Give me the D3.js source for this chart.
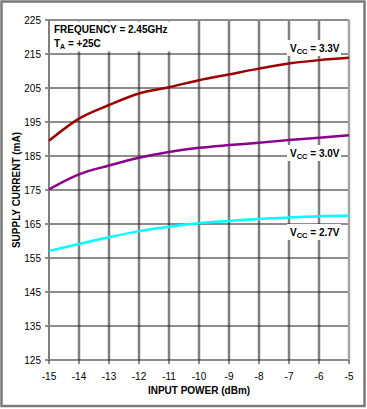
<!DOCTYPE html>
<html>
<head>
<meta charset="utf-8">
<script src="https://cdn.jsdelivr.net/npm/d3@7"></script>
<style>
    body { margin: 0; background: #fff; }
    svg text { font-family: Arial, "Liberation Sans", sans-serif; fill: #000; }
    .tick-label { font-size: 10px; }
    .title { font-size: 10px; font-weight: bold; }
</style>
</head>
<body>
<svg id="chart" width="367" height="409"></svg>
<script>
/**
 * Supply current vs input power, three supply voltages.
 */
const inputPower = [-15, -14, -13, -12, -11, -10, -9, -8, -7, -6, -5];
const current33 = [189.5, 196.0, 200.0, 203.4, 205.2, 207.3, 209.0, 210.7, 212.2, 213.2, 213.9];
const current30 = [175.2, 179.6, 182.2, 184.5, 186.2, 187.4, 188.2, 188.9, 189.7, 190.4, 191.1];
const current27 = [157.1, 159.1, 161.1, 162.9, 164.2, 165.2, 165.9, 166.5, 166.9, 167.3, 167.5];
const yTicks = [125, 135, 145, 155, 165, 175, 185, 195, 205, 215, 225];

const series = [
    { label: '3.3V', values: current33, color: '#990000' },
    { label: '3.0V', values: current30, color: '#8b008b' },
    { label: '2.7V', values: current27, color: '#00ffff' }
];

/**
 * Visual configs.
 */
const plot = { left: 49, right: 349, top: 20, bottom: 360 };

const svg = d3.select('#chart');

const x = d3.scaleLinear().domain([-15, -5]).range([plot.left, plot.right]);
const y = d3.scaleLinear().domain([125, 225]).range([plot.bottom, plot.top]);

// Outer frame
svg.append('rect')
    .attr('x', 1.5).attr('y', 1.5)
    .attr('width', 363).attr('height', 404.5)
    .attr('fill', 'none')
    .attr('stroke', '#7a7a7a')
    .attr('stroke-width', 2.5);

const grid = svg.append('g').attr('class', 'grid');

// Vertical grid lines (gray, heavy)
grid.selectAll('.vline').data(inputPower.slice(1, -1)).enter().append('line')
    .attr('x1', d => x(d)).attr('x2', d => x(d))
    .attr('y1', plot.top).attr('y2', plot.bottom)
    .attr('stroke', '#808080').attr('stroke-width', 2.5);

// Horizontal grid lines (black, thin)
grid.selectAll('.hline').data(yTicks.slice(0, -1)).enter().append('line')
    .attr('x1', plot.left - 4).attr('x2', plot.right)
    .attr('y1', d => y(d)).attr('y2', d => y(d))
    .attr('stroke', '#1a1a1a').attr('stroke-width', 1);

// Top and right border of the plot
grid.append('line')
    .attr('x1', plot.left).attr('x2', plot.right)
    .attr('y1', plot.top).attr('y2', plot.top)
    .attr('stroke', '#8c8c8c').attr('stroke-width', 2);
grid.append('line')
    .attr('x1', plot.left - 4).attr('x2', plot.left)
    .attr('y1', plot.top).attr('y2', plot.top)
    .attr('stroke', '#1a1a1a').attr('stroke-width', 1);
grid.append('line')
    .attr('x1', plot.right).attr('x2', plot.right)
    .attr('y1', plot.top).attr('y2', plot.bottom)
    .attr('stroke', '#a6a6a6').attr('stroke-width', 2.5);

// Left axis line
grid.append('line')
    .attr('x1', plot.left).attr('x2', plot.left)
    .attr('y1', plot.top).attr('y2', plot.bottom)
    .attr('stroke', '#808080').attr('stroke-width', 2);

// Bottom axis ticks
grid.selectAll('.xtick').data(inputPower).enter().append('line')
    .attr('x1', d => x(d)).attr('x2', d => x(d))
    .attr('y1', plot.bottom).attr('y2', plot.bottom + 4)
    .attr('stroke', '#1a1a1a').attr('stroke-width', 1);

// Tick labels
svg.append('g').selectAll('text').data(yTicks).enter().append('text')
    .attr('class', 'tick-label')
    .attr('x', 41).attr('y', d => y(d) + 3.5)
    .attr('text-anchor', 'end')
    .text(d => d);

svg.append('g').selectAll('text').data(inputPower).enter().append('text')
    .attr('class', 'tick-label')
    .attr('x', d => x(d)).attr('y', 380)
    .attr('text-anchor', 'middle')
    .text(d => d);

// Axis titles
svg.append('text').attr('class', 'title')
    .attr('x', 199).attr('y', 394)
    .attr('text-anchor', 'middle')
    .text('INPUT POWER (dBm)');

svg.append('text').attr('class', 'title')
    .attr('transform', 'translate(20,' + (plot.top + plot.bottom) / 2 + ') rotate(-90)')
    .attr('text-anchor', 'middle')
    .text('SUPPLY CURRENT (mA)');

// Curves
const line = d3.line()
    .x((d, i) => x(inputPower[i]))
    .y(d => y(d))
    .curve(d3.curveMonotoneX);

svg.append('g').selectAll('path').data(series).enter().append('path')
    .attr('d', d => line(d.values))
    .attr('fill', 'none')
    .attr('stroke', d => d.color)
    .attr('stroke-width', 2.5);

// Condition note
svg.append('rect')
    .attr('x', 50.5).attr('y', 21.5)
    .attr('width', 121).attr('height', 30)
    .attr('fill', '#fff');
svg.append('text').attr('class', 'title')
    .attr('x', 54).attr('y', 33)
    .text('FREQUENCY = 2.45GHz');
const ta = svg.append('text').attr('class', 'title')
    .attr('x', 54).attr('y', 46.5);
ta.append('tspan').text('T');
ta.append('tspan').attr('font-size', '7px').attr('dy', 2).text('A');
ta.append('tspan').attr('dy', -2).text(' = +25C');

// Vcc labels, each on a white patch
const labelY = { '3.3V': 52, '3.0V': 157, '2.7V': 236 };
series.forEach(s => {
    const by = labelY[s.label];
    svg.append('rect')
        .attr('x', 287).attr('y', by - 12)
        .attr('width', 54).attr('height', 16)
        .attr('fill', '#fff');
    const t = svg.append('text').attr('class', 'title')
        .attr('x', 290).attr('y', by);
    t.append('tspan').text('V');
    t.append('tspan').attr('font-size', '7.5px').attr('dy', 1.5).text('CC');
    t.append('tspan').attr('dy', -1.5).text(' = ' + s.label);
});
</script>
</body>
</html>
